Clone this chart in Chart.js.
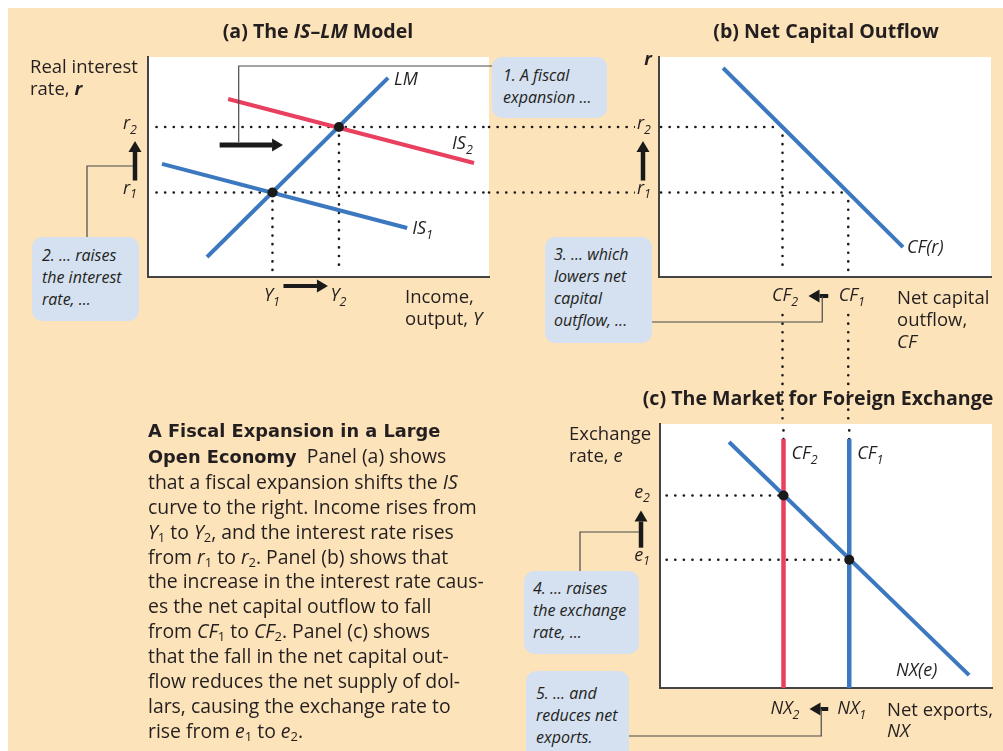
<!DOCTYPE html>
<html>
<head>
<meta charset="utf-8">
<script src="https://cdn.jsdelivr.net/npm/chart.js@4.4.0/dist/chart.umd.min.js"></script>
<style>
body { margin: 0; background: #fff; }
#page { position: relative; width: 1003px; height: 751px; overflow: hidden; font-family: "Open Sans", sans-serif; color: #231f20; }
#bg { position: absolute; left: 8px; top: 8px; right: 0; bottom: 0; background: #fde3b9; }
canvas { position: absolute; left: 0; top: 0; }
.t { position: absolute; white-space: nowrap; }
.title { font-weight: bold; font-size: 19.6px; line-height: 22px; text-align: center; }
.ax { font-size: 18.5px; line-height: 22px; }
.box { position: absolute; background: #d5e0f0; border-radius: 10px; font-style: italic; font-size: 16px; line-height: 22px; white-space: nowrap; box-sizing: border-box; }
#caption { position: absolute; left: 148px; top: 418px; font-size: 19.4px; line-height: 24.9px; white-space: nowrap; }
#caption b { font-family: "DejaVu Sans", sans-serif; font-size: 17.8px; }
sub { font-size: 13px; vertical-align: -3px; line-height: 0; }
</style>
</head>
<body>
<div id="page">
  <div id="bg"></div>
  <canvas id="chartA" width="1003" height="751"></canvas>
  <canvas id="chartB" width="1003" height="751"></canvas>
  <canvas id="chartC" width="1003" height="751"></canvas>

  <div class="t title" style="left:168px;top:20px;width:300px">(a) The <i>IS</i>–<i>LM</i> Model</div>
  <div class="t title" style="left:676px;top:20px;width:300px">(b) Net Capital Outflow</div>
  <div class="t title" style="left:618px;top:387px;width:400px">(c) The Market for Foreign Exchange</div>

  <div class="t ax" style="left:30px;top:55px">Real interest<br>rate, <b><i>r</i></b></div>
  <div class="t ax" style="left:405px;top:285px">Income,<br>output, <i>Y</i></div>
  <div class="t ax" style="left:897px;top:286px">Net capital<br>outflow,<br><i>CF</i></div>
  <div class="t ax" style="left:569px;top:422px">Exchange<br>rate, <i>e</i></div>
  <div class="t ax" style="left:887px;top:698px;line-height:21px">Net exports,<br><i>NX</i></div>

  <div class="box" style="left:492px;top:57px;width:115px;height:61px;padding:7px 0 0 11px">1. A fiscal<br>expansion ...</div>
  <div class="box" style="left:32px;top:237px;width:107px;height:84px;padding:7px 0 0 10px">2. ... raises<br>the interest<br>rate, ...</div>
  <div class="box" style="left:545px;top:237px;width:107px;height:106px;padding:6px 0 0 9px">3. ... which<br>lowers net<br>capital<br>outflow, ...</div>
  <div class="box" style="left:524px;top:571px;width:115px;height:83px;padding:6px 0 0 9px">4. ... raises<br>the exchange<br>rate, ...</div>
  <div class="box" style="left:526px;top:671px;width:103px;height:95px;padding:11px 0 0 10px">5. ... and<br>reduces net<br>exports.</div>

  <div id="caption">
    <b>A Fiscal Expansion in a Large</b><br>
    <b>Open Economy</b>&nbsp; Panel (a) shows<br>
    that a fiscal expansion shifts the <i>IS</i><br>
    curve to the right. Income rises from<br>
    <i>Y</i><sub>1</sub> to <i>Y</i><sub>2</sub>, and the interest rate rises<br>
    from <i>r</i><sub>1</sub> to <i>r</i><sub>2</sub>. Panel (b) shows that<br>
    the increase in the interest rate caus-<br>
    es the net capital outflow to fall<br>
    from <i>CF</i><sub>1</sub> to <i>CF</i><sub>2</sub>. Panel (c) shows<br>
    that the fall in the net capital out-<br>
    flow reduces the net supply of dol-<br>
    lars, causing the exchange rate to<br>
    rise from <i>e</i><sub>1</sub> to <i>e</i><sub>2</sub>.
  </div>
</div>

<script>
const W = 1003, H = 751;
const BLUE = '#3b78c0', RED = '#e8405e', INK = '#231f20', BEIGE = '#fde3b9';
const LABEL_FONT = '"Open Sans"';

// panel (a): IS-LM, both axes on a 0-10 scale
const lmX = [1.73, 7.04], lmY = [0.91, 9.05];
const is1X = [0.41, 7.6], is1Y = [5.14, 2.23];
const is2X = [2.35, 9.56], is2Y = [8.09, 5.18];
const incomeLevels = [3.65, 5.6];    // Y1, Y2
const rateLevels = [3.84, 6.82];     // r1, r2
// panel (b): net capital outflow
const cfX = [1.93, 7.35], cfY = [9.5, 1.36];
const cfLevels = [5.7, 3.72];        // CF1, CF2
// panel (c): market for foreign exchange
const nxX = [2.08, 9.31], nxY = [9.32, 0.49];
const exchangeLevels = [4.86, 7.29]; // e1, e2
const supplyTop = 9.43;              // top of the vertical CF lines

// plot areas on the page
const areaA = { left: 148, top: 57, right: 489, bottom: 277 };
const areaB = { left: 659, top: 57, right: 991, bottom: 277 };
const areaC = { left: 660, top: 424, right: 992, bottom: 688 };

// value in panel units for a page pixel (only used to run guides between panels)
const xIn = (area, px) => (px - area.left) / (area.right - area.left) * 10;
const yIn = (area, px) => (area.bottom - px) / (area.bottom - area.top) * 10;

function pts(xs, ys) { return xs.map((x, i) => ({ x, y: ys[i] })); }

function curve(xs, ys, color) {
  return { data: pts(xs, ys), showLine: true, borderColor: color, borderWidth: 4, pointRadius: 0, clip: false };
}
function guide(xs, ys) {
  return { data: pts(xs, ys), showLine: true, borderColor: '#1a1a1a', borderWidth: 2.6, borderDash: [0.1, 8.5],
           borderCapStyle: 'round', pointRadius: 0, clip: false };
}
function dots(xs, ys) {
  return { data: pts(xs, ys), showLine: false, pointRadius: 5, pointBackgroundColor: '#1a1a1a', pointBorderWidth: 0, clip: false };
}

const whiteArea = {
  id: 'whiteArea',
  beforeDraw(chart) {
    const a = chart.chartArea, ctx = chart.ctx;
    ctx.save(); ctx.fillStyle = '#fff';
    ctx.fillRect(a.left, a.top, a.right - a.left, a.bottom - a.top);
    ctx.restore();
  }
};

function subLabel(ctx, main, sub, x, y, align, bg) {
  ctx.save();
  ctx.font = `italic 18px ${LABEL_FONT}`;
  const w1 = ctx.measureText(main).width;
  ctx.font = `italic 12.5px ${LABEL_FONT}`;
  const w2 = sub ? ctx.measureText(sub).width + 1 : 0;
  const x0 = align === 'center' ? x - (w1 + w2) / 2 : align === 'right' ? x - w1 - w2 : x;
  if (bg) { ctx.fillStyle = BEIGE; ctx.fillRect(x0 - 2, y - 10, w1 + w2 + 4, 22); }
  ctx.fillStyle = INK; ctx.textAlign = 'left'; ctx.textBaseline = 'middle';
  ctx.font = `italic 18px ${LABEL_FONT}`;
  ctx.fillText(main, x0, y);
  if (sub) { ctx.font = `italic 12.5px ${LABEL_FONT}`; ctx.fillText(sub, x0 + w1, y + 6); }
  ctx.restore();
}

function arrow(ctx, x1, y1, x2, y2, w) {
  const ang = Math.atan2(y2 - y1, x2 - x1), head = 11, hw = 6.5;
  const c = Math.cos(ang), s = Math.sin(ang);
  ctx.save();
  ctx.strokeStyle = ctx.fillStyle = '#1a1a1a';
  ctx.lineWidth = w || 4.5;
  ctx.beginPath(); ctx.moveTo(x1, y1); ctx.lineTo(x2 - head * c, y2 - head * s); ctx.stroke();
  ctx.beginPath();
  ctx.moveTo(x2, y2);
  ctx.lineTo(x2 - head * c + hw * s, y2 - head * s - hw * c);
  ctx.lineTo(x2 - head * c - hw * s, y2 - head * s + hw * c);
  ctx.closePath(); ctx.fill();
  ctx.restore();
}

function connector(ctx, path) {
  ctx.save();
  ctx.strokeStyle = '#4a4a4a'; ctx.lineWidth = 1.2;
  ctx.beginPath();
  path.forEach(([x, y], i) => i ? ctx.lineTo(x, y) : ctx.moveTo(x, y));
  ctx.stroke(); ctx.restore();
}

const hiddenAxis = {
  type: 'linear', min: 0, max: 10,
  ticks: { display: false },
  grid: { display: false, drawTicks: false },
  border: { color: '#444', width: 2 }
};

function makePanel(id, area, datasets, extras) {
  return new Chart(document.getElementById(id), {
    type: 'scatter',
    data: { datasets },
    options: {
      responsive: false, animation: false, devicePixelRatio: 1,
      layout: { padding: { left: area.left, top: area.top, right: W - area.right, bottom: H - area.bottom } },
      elements: { line: { tension: 0 } },
      plugins: { legend: { display: false }, tooltip: { enabled: false } },
      scales: { x: { ...hiddenAxis }, y: { ...hiddenAxis } }
    },
    plugins: [whiteArea, { id: 'extras', afterDraw: chart => extras(chart, chart.ctx, chart.scales.x, chart.scales.y) }]
  });
}

function build() {
  const [Y1, Y2] = incomeLevels, [r1, r2] = rateLevels;
  const [CF1, CF2] = cfLevels, [e1, e2] = exchangeLevels;

  // (a) IS-LM
  makePanel('chartA', areaA, [
    dots([Y1, Y2], [r1, r2]),
    curve(lmX, lmY, BLUE),
    curve(is2X, is2Y, RED),
    curve(is1X, is1Y, BLUE),
    guide([0.25, 10], [r2, r2]),
    guide([0.25, 10], [r1, r1]),
    guide([Y1, Y1], [r1, 0.2]),
    guide([Y2, Y2], [r2, 0.2])
  ], (chart, ctx, xs, ys) => {
    const a = chart.chartArea;
    subLabel(ctx, 'LM', '', xs.getPixelForValue(lmX[1]) + 6, ys.getPixelForValue(lmY[1]) + 2, 'left');
    subLabel(ctx, 'IS', '2', xs.getPixelForValue(is2X[1]) - 22, ys.getPixelForValue(is2Y[1]) - 19, 'left');
    subLabel(ctx, 'IS', '1', xs.getPixelForValue(is1X[1]) + 5, ys.getPixelForValue(is1Y[1]) + 1, 'left');
    subLabel(ctx, 'r', '2', a.left - 10, ys.getPixelForValue(r2) - 3, 'right');
    subLabel(ctx, 'r', '1', a.left - 10, ys.getPixelForValue(r1) - 4, 'right');
    arrow(ctx, a.left - 13, ys.getPixelForValue(r1) - 12, a.left - 13, ys.getPixelForValue(r2) + 14);
    subLabel(ctx, 'Y', '1', xs.getPixelForValue(Y1), a.bottom + 19, 'center');
    subLabel(ctx, 'Y', '2', xs.getPixelForValue(Y2), a.bottom + 19, 'center');
    arrow(ctx, xs.getPixelForValue(Y1) + 11, a.bottom + 9, xs.getPixelForValue(Y2) - 11, a.bottom + 9, 4);
    // shift of the IS curve
    const sy = ys.getPixelForValue(6.0);
    arrow(ctx, xs.getPixelForValue(2.1), sy, xs.getPixelForValue(3.96), sy, 5);
    connector(ctx, [[xs.getPixelForValue(2.66), sy - 3], [xs.getPixelForValue(2.66), a.top + 9], [492, a.top + 9]]);
    connector(ctx, [[a.left - 15, 166], [87, 166], [87, 237]]);
  });

  // (b) net capital outflow
  const gapX = xIn(areaB, areaA.right);
  const belowLabels = yIn(areaB, 315), toPanelC = yIn(areaB, areaC.top);
  makePanel('chartB', areaB, [
    curve(cfX, cfY, BLUE),
    guide([gapX, CF2], [r2, r2]),
    guide([gapX, CF1], [r1, r1]),
    guide([CF2, CF2], [r2, 0.2]),
    guide([CF2, CF2], [belowLabels, toPanelC]),
    guide([CF1, CF1], [r1, 0.2]),
    guide([CF1, CF1], [belowLabels, toPanelC])
  ], (chart, ctx, xs, ys) => {
    const a = chart.chartArea;
    ctx.save(); ctx.fillStyle = INK; ctx.font = `italic bold 18px ${LABEL_FONT}`; ctx.textAlign = 'center'; ctx.textBaseline = 'middle';
    ctx.fillText('r', a.left - 11, a.top + 3); ctx.restore();
    subLabel(ctx, 'r', '2', a.left - 7, ys.getPixelForValue(r2) - 3, 'right', true);
    subLabel(ctx, 'r', '1', a.left - 7, ys.getPixelForValue(r1) - 4, 'right', true);
    arrow(ctx, a.left - 16, ys.getPixelForValue(r1) - 12, a.left - 16, ys.getPixelForValue(r2) + 14);
    subLabel(ctx, 'CF(r)', '', xs.getPixelForValue(cfX[1]) + 4, ys.getPixelForValue(cfY[1]) + 1, 'left');
    subLabel(ctx, 'CF', '2', xs.getPixelForValue(CF2) + 3, a.bottom + 19, 'center');
    subLabel(ctx, 'CF', '1', xs.getPixelForValue(CF1) + 4, a.bottom + 19, 'center');
    const ay = a.bottom + 19;
    arrow(ctx, xs.getPixelForValue(CF1) - 20, ay, xs.getPixelForValue(CF2) + 26, ay, 4);
    connector(ctx, [[xs.getPixelForValue(CF1) - 26, ay], [xs.getPixelForValue(CF1) - 26, 322], [652, 322]]);
  });

  // (c) foreign exchange
  makePanel('chartC', areaC, [
    dots([CF2, CF1], [e2, e1]),
    curve(nxX, nxY, BLUE),
    { ...curve([CF2, CF2], [0, supplyTop], RED), borderWidth: 4.5 },
    { ...curve([CF1, CF1], [0, supplyTop], BLUE), borderWidth: 4.5 },
    guide([CF2, CF2], [supplyTop, 10]),
    guide([CF1, CF1], [supplyTop, 10]),
    guide([0.2, CF2], [e2, e2]),
    guide([0.2, CF1], [e1, e1])
  ], (chart, ctx, xs, ys) => {
    const a = chart.chartArea;
    subLabel(ctx, 'CF', '2', xs.getPixelForValue(CF2) + 8, a.top + 30, 'left');
    subLabel(ctx, 'CF', '1', xs.getPixelForValue(CF1) + 8, a.top + 30, 'left');
    subLabel(ctx, 'e', '2', a.left - 9, ys.getPixelForValue(e2) - 3, 'right');
    subLabel(ctx, 'e', '1', a.left - 9, ys.getPixelForValue(e1) - 4, 'right');
    arrow(ctx, a.left - 19, ys.getPixelForValue(e1) - 12, a.left - 19, ys.getPixelForValue(e2) + 15);
    connector(ctx, [[a.left - 21, 532], [580, 532], [580, 571]]);
    subLabel(ctx, 'NX(e)', '', 896, ys.getPixelForValue(nxY[1]) - 4, 'left');
    subLabel(ctx, 'NX', '2', xs.getPixelForValue(CF2) + 2, a.bottom + 21, 'center');
    subLabel(ctx, 'NX', '1', xs.getPixelForValue(CF1) + 3, a.bottom + 21, 'center');
    const ay = a.bottom + 21;
    arrow(ctx, xs.getPixelForValue(CF1) - 21, ay, xs.getPixelForValue(CF2) + 26, ay, 4);
    connector(ctx, [[xs.getPixelForValue(CF1) - 28, ay], [xs.getPixelForValue(CF1) - 28, 736], [629, 736]]);
  });
}

Promise.all([
  document.fonts.load('18px "Open Sans"'), document.fonts.load('italic 18px "Open Sans"'),
  document.fonts.load('bold 18px "Open Sans"'), document.fonts.load('bold 17px "DejaVu Sans"')
]).then(build, build);
</script>
</body>
</html>
